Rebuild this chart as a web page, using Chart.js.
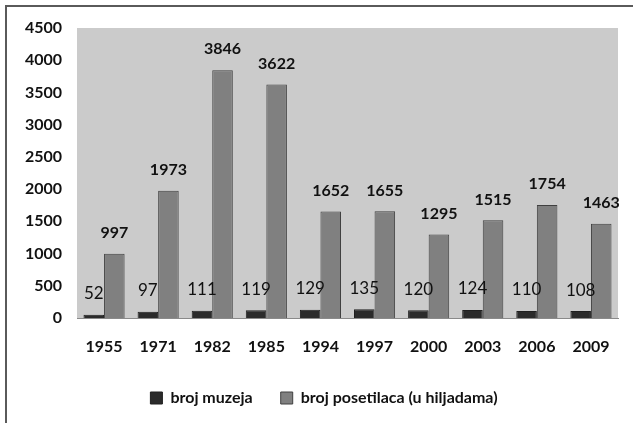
<!DOCTYPE html>
<html>
<head>
<meta charset="utf-8">
<script src="https://cdn.jsdelivr.net/npm/chart.js@4"></script>
<style>
  html, body { margin: 0; padding: 0; background: #fff; }
  #wrap { position: relative; width: 633px; height: 423px; }
</style>
</head>
<body>
<div id="wrap"><canvas id="muzeji" width="633" height="423"></canvas></div>
<script>
const godine = ["1955", "1971", "1982", "1985", "1994", "1997", "2000", "2003", "2006", "2009"];
const brojMuzeja = [52, 97, 111, 119, 129, 135, 120, 124, 110, 108];
const brojPosetilaca = [997, 1973, 3846, 3622, 1652, 1655, 1295, 1515, 1754, 1463];

const FONT = "Lato, 'Open Sans', sans-serif";

// okvir i siva pozadina
const pozadina = {
  id: "pozadina",
  afterLayout(chart) {
    // legenda malo udesno, kao u originalu
    chart.legend.left += 15;
    chart.legend.right += 15;
  },
  beforeDraw(chart) {
    const ctx = chart.ctx;
    const a = chart.chartArea;
    ctx.save();
    ctx.fillStyle = "#ffffff";
    ctx.fillRect(0, 0, chart.width, chart.height);
    ctx.fillStyle = "#5a5a5a";
    ctx.fillRect(5, 5, chart.width - 5, 2);
    ctx.fillRect(5, 5, 2, chart.height - 5);
    ctx.fillStyle = "#cbcbcb";
    ctx.fillRect(a.left, a.top, a.right - a.left, a.bottom - a.top);
    ctx.restore();
  }
};

// oznake vrednosti iznad stubova
const oznake = {
  id: "oznake",
  afterDatasetsDraw(chart) {
    const ctx = chart.ctx;
    ctx.save();
    ctx.textAlign = "center";
    ctx.textBaseline = "middle";
    ctx.fillStyle = "#111";
    chart.data.datasets.forEach((ds, i) => {
      ctx.font = (i === 0 ? "normal 17px " : "bold 16px ") + FONT;
      chart.getDatasetMeta(i).data.forEach((el, j) => {
        ctx.fillText(ds.data[j], el.x, el.y - 21);
      });
    });
    ctx.restore();
  }
};

new Chart(document.getElementById("muzeji"), {
  type: "bar",
  data: {
    labels: godine,
    datasets: [
      {
        label: "broj muzeja",
        data: brojMuzeja,
        backgroundColor: "#2b2b2b",
        borderColor: "#202020",
        borderWidth: 1,
        categoryPercentage: 0.76,
        barPercentage: 1.0,
      },
      {
        label: "broj posetilaca (u hiljadama)",
        data: brojPosetilaca,
        backgroundColor: "#808080",
        borderColor: "#404040",
        borderWidth: 1,
        categoryPercentage: 0.76,
        barPercentage: 1.0,
      },
    ],
  },
  options: {
    responsive: false,
    animation: false,
    layout: { padding: { top: 28, right: 15, left: 0, bottom: 7 } },
    scales: {
      x: {
        grid: { display: false, drawTicks: false },
        border: { display: true, color: "#8a8a8a", width: 1 },
        ticks: { color: "#111", font: { family: FONT, size: 16, weight: "bold" }, padding: 19 },
        afterFit(scale) { scale.height = 44; },
      },
      y: {
        min: 0,
        max: 4500,
        grid: { display: false, drawTicks: false },
        border: { display: false },
        ticks: {
          stepSize: 500,
          color: "#111",
          font: { family: FONT, size: 16, weight: "bold" },
          padding: 15,
          callback: (v) => String(v),
        },
        afterFit(scale) { scale.width = 77; },
      },
    },
    plugins: {
      legend: {
        position: "bottom",
        maxHeight: 63,
        labels: {
          color: "#111",
          font: { family: FONT, size: 16, weight: "bold" },
          boxWidth: 12,
          boxHeight: 12,
          padding: 28,
        },
      },
      tooltip: { enabled: false },
    },
  },
  plugins: [pozadina, oznake],
});
</script>
</body>
</html>
